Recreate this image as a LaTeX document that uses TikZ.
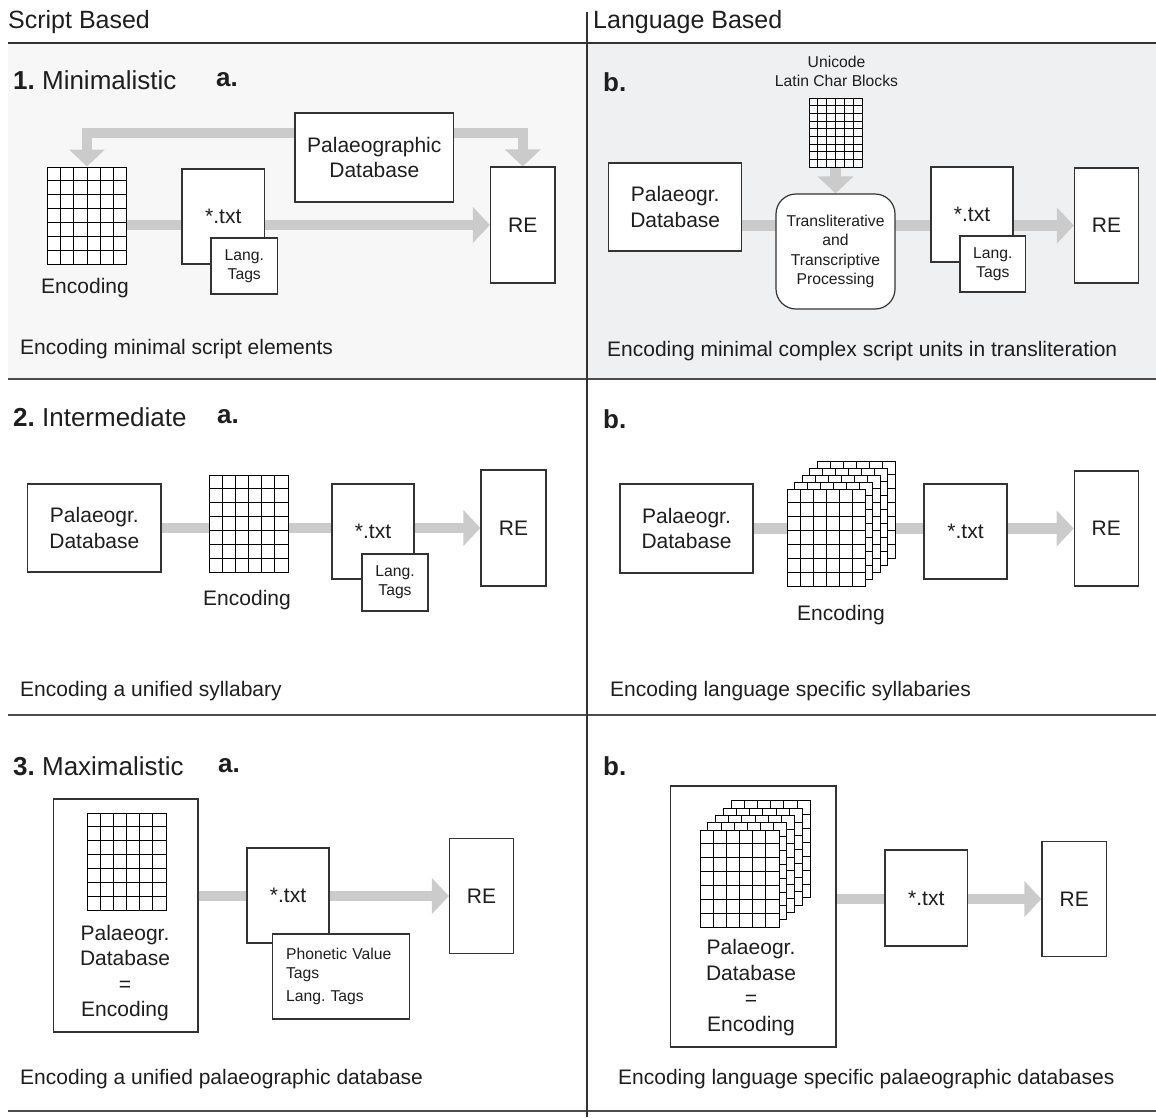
\documentclass[tikz,border=0pt]{standalone}
\usepackage{fontspec}
\setmainfont{Liberation Sans}
\usetikzlibrary{arrows.meta,calc}
\frenchspacing

\pgfdeclarelayer{shade}
\pgfdeclarelayer{flow}
\pgfsetlayers{shade,flow,main}

\definecolor{boxline}{HTML}{333333}
\definecolor{flowgray}{HTML}{CBCBCB}
\definecolor{shadeL}{HTML}{F7F7F7}
\definecolor{shadeR}{HTML}{EFF0F2}
\definecolor{rulegray}{HTML}{4D4D4D}
\definecolor{ink}{HTML}{1E1E1E}

\newcommand\topfont{\fontsize{25}{29}\selectfont}
\newcommand\headfont{\fontsize{26}{30}\selectfont}
\newcommand\bodyfont{\fontsize{21}{25.5}\selectfont}
\newcommand\smallfont{\fontsize{15.7}{19.3}\selectfont}

\tikzset{
  every node/.style={text=ink, inner sep=0pt},
  box/.style={draw=boxline, line width=1.2pt, fill=white, align=center, font=\bodyfont},
  smallbox/.style={box, font=\smallfont},
  label text/.style={font=\bodyfont, align=center},
  small text/.style={font=\smallfont, align=center},
  top text/.style={font=\topfont, anchor=west},
  head text/.style={font=\headfont, anchor=west},
  caption text/.style={font=\bodyfont, anchor=west},
  % a white table of character cells: width, height, columns, rows
  cellgrid/.style n args={4}{draw=black, line width=1pt, fill=white,
    minimum width=#1, minimum height=#2,
    path picture={
      \pgfmathtruncatemacro\lastcol{#3-1}
      \pgfmathtruncatemacro\lastrow{#4-1}
      \foreach \k in {1,...,\lastcol}{
        \draw[line width=0.9pt]
          ($(path picture bounding box.north west)!\k/#3!(path picture bounding box.north east)$) --
          ($(path picture bounding box.south west)!\k/#3!(path picture bounding box.south east)$);}
      \foreach \k in {1,...,\lastrow}{
        \draw[line width=0.9pt]
          ($(path picture bounding box.north west)!\k/#4!(path picture bounding box.south west)$) --
          ($(path picture bounding box.north east)!\k/#4!(path picture bounding box.south east)$);}
    }},
  fatline/.style={draw=flowgray, line width=10.5pt, line join=miter},
  fatarrow/.style={fatline, -{Triangle[length=17pt,width=35pt]}},
  rulethin/.style={draw=boxline, line width=1.3pt},
  rulethick/.style={draw=rulegray, line width=2pt},
}

\begin{document}
\begin{tikzpicture}[x=1pt,y=-1pt]
\useasboundingbox (0,0) rectangle (1156,1117);

% shaded first row
\begin{pgfonlayer}{shade}
  \fill[shadeL] (8,43) rectangle (587,379);
  \fill[shadeR] (587,43) rectangle (1156,379);
\end{pgfonlayer}

% table rules
\draw[rulethin] (8,43) -- (1156,43);
\draw[rulethick] (8,379) -- (1156,379);
\draw[rulethick] (8,715) -- (1156,715);
\draw[rulethick] (8,1111) -- (1156,1111);
\draw[rulethin] (587,12) -- (587,1117);

% column headings
\node[top text] (hdscript) at (8,22) {Script Based};
\node[top text] (hdlang) at (593,22) {Language Based};

% row headings
\node[head text] (row1) at (13,80) {\textbf{1.} Minimalistic};
\node[head text] (row1a) at (216,80) {\textbf{a.}};
\node[head text] (row1b) at (603,82) {\textbf{b.}};
\node[head text] (row2) at (13,417) {\textbf{2.} Intermediate};
\node[head text] (row2a) at (217,417) {\textbf{a.}};
\node[head text] (row2b) at (603,419) {\textbf{b.}};
\node[head text] (row3) at (13,766) {\textbf{3.} Maximalistic};
\node[head text] (row3a) at (218,766) {\textbf{a.}};
\node[head text] (row3b) at (603,766) {\textbf{b.}};

% ---------- 1a: minimalistic, script based ----------
\node[cellgrid={79pt}{97pt}{6}{7}] (enc1) at (87,215.5) {};
\node[label text] (enc1lbl) at (85,288) {Encoding};
\node[box, minimum width=82.5pt, minimum height=95pt] (txt1) at (223.25,216.5) {*.txt};
\node[smallbox, minimum width=66.5pt, minimum height=56pt] (tag1) at (244.25,266) {Lang.\\Tags};
\node[box, minimum width=158.6pt, minimum height=89pt] (pal1) at (374.3,157.5) {Palaeographic\\Database};
\node[box, minimum width=64.5pt, minimum height=116pt] (re1) at (522.75,225) {RE};
\node[caption text] (cap1a) at (20,349) {Encoding minimal script elements};
\begin{pgfonlayer}{flow}
  \draw[fatarrow] (enc1.east |- re1.west) -- (re1.west);
  \draw[fatarrow] ([yshift=24.5pt]pal1.west) -| (enc1.north);
  \draw[fatarrow] ([yshift=24.5pt]pal1.east) -| (re1.north);
\end{pgfonlayer}

% ---------- 1b: minimalistic, language based ----------
\node[small text] (unilbl) at (836.5,71.5) {Unicode\\Latin Char Blocks};
\node[cellgrid={53pt}{69pt}{6}{9}] (uni) at (835.5,132.5) {};
\node[box, minimum width=133pt, minimum height=88pt] (pal1b) at (675.2,207) {Palaeogr.\\Database};
\node[smallbox, rounded corners=20pt, minimum width=119pt, minimum height=115pt] (proc) at (835.5,251.5)
  {Transliterative\\and\\Transcriptive\\Processing};
\node[box, minimum width=82pt, minimum height=95pt] (txt1b) at (972,214.5) {*.txt};
\node[smallbox, minimum width=65.6pt, minimum height=56pt] (tag1b) at (992.8,264) {Lang.\\Tags};
\node[box, minimum width=64pt, minimum height=115pt] (re1b) at (1106.5,225.5) {RE};
\node[caption text] (cap1b) at (607,351) {Encoding minimal complex script units in transliteration};
\begin{pgfonlayer}{flow}
  \draw[fatarrow] (pal1b.east |- re1b.west) -- (re1b.west);
  \draw[fatarrow] (uni.south) -- (proc.north);
\end{pgfonlayer}

% ---------- 2a: intermediate, script based ----------
\node[box, minimum width=133.3pt, minimum height=88pt] (pal2) at (94.35,528) {Palaeogr.\\Database};
\node[cellgrid={79pt}{97pt}{6}{7}] (enc2) at (248.5,523.5) {};
\node[label text] (enc2lbl) at (247,600) {Encoding};
\node[box, minimum width=82pt, minimum height=95pt] (txt2) at (373,531.5) {*.txt};
\node[smallbox, minimum width=66pt, minimum height=57pt] (tag2) at (395,582.5) {Lang.\\Tags};
\node[box, minimum width=65pt, minimum height=116pt] (re2) at (513.5,528) {RE};
\node[caption text] (cap2a) at (20,691) {Encoding a unified syllabary};
\begin{pgfonlayer}{flow}
  \draw[fatarrow] (pal2.east |- re2.west) -- (re2.west);
\end{pgfonlayer}

% ---------- 2b: intermediate, language based ----------
\node[box, minimum width=133pt, minimum height=89pt] (pal2b) at (686.5,528.5) {Palaeogr.\\Database};
\foreach \s in {4,3,2,1}
  \node[cellgrid={78pt}{97pt}{6}{7}] (stk2b\s) at (826+7.5*\s, 537.5-7*\s) {};
\node[cellgrid={78pt}{97pt}{6}{7}] (enc2b) at (826,537.5) {};
\node[label text] (enc2blbl) at (841,615) {Encoding};
\node[box, minimum width=83pt, minimum height=95pt] (txt2b) at (965.5,531.5) {*.txt};
\node[box, minimum width=64pt, minimum height=115pt] (re2b) at (1106.3,528.5) {RE};
\node[caption text] (cap2b) at (610,691) {Encoding language specific syllabaries};
\begin{pgfonlayer}{flow}
  \draw[fatarrow] (pal2b.east |- re2b.west) -- (re2b.west);
\end{pgfonlayer}

% ---------- 3a: maximalistic, script based ----------
\node[box, minimum width=144.4pt, minimum height=233pt] (db3) at (125.8,915.5) {};
\node[cellgrid={79pt}{97pt}{6}{7}] (enc3) at (126.5,861.5) {};
\node[label text] (db3lbl) at (125,973) {Palaeogr.\\Database\\=\\Encoding};
\node[box, minimum width=82pt, minimum height=95pt] (txt3) at (288,895.5) {*.txt};
\node[smallbox, minimum width=136.8pt, minimum height=85pt, align=left, text width=110pt] (tag3) at (341.1,976.5)
  {Phonetic Value\\Tags\\[4pt]Lang. Tags};
\node[box, minimum width=64pt, minimum height=115pt] (re3) at (481.5,896) {RE};
\node[caption text] (cap3a) at (20,1079) {Encoding a unified palaeographic database};
\begin{pgfonlayer}{flow}
  \draw[fatarrow] (db3.east |- re3.west) -- (re3.west);
\end{pgfonlayer}

% ---------- 3b: maximalistic, language based ----------
\node[box, minimum width=165.3pt, minimum height=261pt] (db3b) at (753.35,916.5) {};
\foreach \s in {4,3,2,1}
  \node[cellgrid={79pt}{97pt}{6}{7}] (stk3b\s) at (739.5+7.8*\s, 878.5-7.3*\s) {};
\node[cellgrid={79pt}{97pt}{6}{7}] (enc3b) at (739.5,878.5) {};
\node[label text] (db3blbl) at (751,987.5) {Palaeogr.\\Database\\=\\Encoding};
\node[box, minimum width=82.6pt, minimum height=96pt] (txt3b) at (926.3,898) {*.txt};
\node[box, minimum width=64.5pt, minimum height=115pt] (re3b) at (1074.25,899) {RE};
\node[caption text] (cap3b) at (618,1079) {Encoding language specific palaeographic databases};
\begin{pgfonlayer}{flow}
  \draw[fatarrow] (db3b.east |- re3b.west) -- (re3b.west);
\end{pgfonlayer}

\end{tikzpicture}
\end{document}
